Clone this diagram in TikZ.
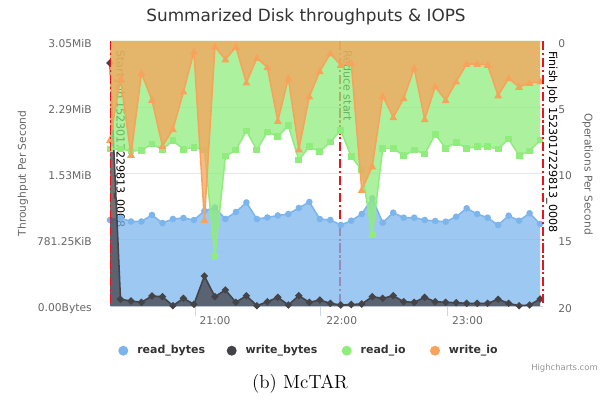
\documentclass[tikz,border=0pt]{standalone}
\usepackage{fontspec}
\newfontfamily\chartfont{DejaVu Sans}
\usepackage{xcolor}
\definecolor{ReadBytes}{HTML}{7CB5EC}
\definecolor{WriteBytes}{HTML}{434348}
\definecolor{ReadIO}{HTML}{90ED7D}
\definecolor{WriteIO}{HTML}{F7A35C}
\definecolor{PlotRed}{HTML}{E8141C}
\definecolor{GridGray}{HTML}{E6E6E6}
\definecolor{AxisGray}{HTML}{CCD6EB}
\definecolor{LabelGray}{HTML}{666666}
\definecolor{TitleGray}{HTML}{333333}
\usepackage{tikz}
\usetikzlibrary{positioning}

% y positions (px from top) of the 42 samples, one every 5 minutes
\newcommand\readbytesdata{220,218,221.5,221.5,215,223,219,218,220,211,207.5,219,212,202.5,219,217.5,215.5,214,208,202,219,220,225,220.7,214,198.3,222.7,212.7,217.7,217.7,220,221,221.7,216.7,208.3,214,217.7,225,215.7,220.7,213.3,224}
\newcommand\writebytesdata{63,299.3,301,302.3,296,296.7,305.7,298.3,304.3,276,296.7,290,302.3,295.7,305.7,301.7,297.3,305,295.7,302.3,300,303.3,305,304.5,304,296.7,298.3,295.7,301.7,302.3,297.3,301.7,302.3,302.7,303.3,303.3,303.3,299.3,303.3,305.7,305,299}
\newcommand\readiodata{149,149,151,150.5,144,149.3,140.7,149.3,147.3,150,256.7,156,150,131,150,132,136.5,125.5,160,146.7,151.7,142,130.5,156.5,170,235,148.3,148.3,155.7,150,154,134.3,148.3,142.3,148.3,146.7,146.7,149,139,155.7,151,140}
\newcommand\writeiodata{140,78.3,155,73.3,100,146,129.3,91.7,51.7,220,46.7,59.5,47,82.7,58,67.3,121,78.3,149.5,96.5,71.3,53.7,65,63.3,190,166.5,96,117.3,98.3,68.3,119.3,86.7,100.3,81.7,64,64,65,95.5,78.3,87,83,81.7}

\begin{document}
\begin{tikzpicture}[
  x=0.025cm,y=-0.025cm,
  gridline/.style={draw=GridGray,line width=0.7pt},
  axisline/.style={draw=AxisGray,line width=0.7pt},
  plotline/.style={draw=PlotRed,line width=1.4pt,dash pattern=on 6.5pt off 2pt on 1.5pt off 2pt},
  titletext/.style={font=\chartfont\fontsize{12}{14}\selectfont,text=TitleGray,inner sep=0pt},
  axislabel/.style={font=\chartfont\fontsize{7.6}{9}\selectfont,text=LabelGray,inner sep=0pt},
  plotlabel/.style={font=\chartfont\fontsize{7.9}{9}\selectfont,text=black,inner sep=0pt,rotate=-90,anchor=west},
  legdot/.style={circle,inner sep=0pt,minimum size=0.25cm},
  legtext/.style={font=\chartfont\bfseries\fontsize{7.8}{9}\selectfont,text=TitleGray,inner sep=0pt,right=0.21cm of #1},
  serieslinestyle/.style={line width=1.1pt,line join=round}
]
\useasboundingbox (0,0) rectangle (612,400);

\node[titletext] (title) at (306,17) {Summarized Disk throughputs \& IOPS};

% grid and axes
\coordinate (top) at (111,41);
\coordinate (base) at (111,306);
\foreach \g in {41,107,173,239}
  \draw[gridline] (111,\g) -- (543,\g);
\draw[axisline] (111,306) -- (543,306);
\foreach \t in {195,320,447}
  \draw[axisline] (\t,306) -- (\t,316);

\foreach \g/\lab [count=\k] in {41/3.05MiB,107/2.29MiB,173/1.53MiB,239/781.25KiB,306/0.00Bytes}
  \node[axislabel,anchor=east] (yleft\k) at (92,{\g+2.5}) {\lab};
\foreach \g/\lab [count=\k] in {41/0,107/5,173/10,239/15,306/20}
  \node[axislabel,anchor=west] (yright\k) at (558,{\g+2.5}) {\lab};
\foreach \x/\lab [count=\k] in {215/21:00,341.7/22:00,467.5/23:00}
  \node[axislabel] (xtick\k) at (\x,321) {\lab};

\node[axislabel,rotate=90] (ytitle) at (23,173.5) {Throughput Per Second};
\node[axislabel,rotate=-90] (y2title) at (587.5,174) {Operations Per Second};

% plot lines that sit under the series
\coordinate (reduceTop) at (340,41);
\coordinate (reduceBot) at (340,306);
\draw[plotline] (reduceTop) -- (reduceBot);
\node[plotlabel] (reducelab) at (347.7,50) {Reduce start};
\node[plotlabel] (startlab) at (119.5,50) {Start Job 1523017229813\_0008};

% sample points
\foreach \v [count=\i from 0] in \readbytesdata
  \coordinate (rb\i) at ({110+10.49*\i},\v);
\foreach \v [count=\i from 0] in \writebytesdata
  \coordinate (wb\i) at ({110+10.49*\i},\v);
\foreach \v [count=\i from 0] in \readiodata
  \coordinate (ri\i) at ({110+10.49*\i},\v);
\foreach \v [count=\i from 0] in \writeiodata
  \coordinate (wi\i) at ({110+10.49*\i},\v);

% read_bytes
\fill[ReadBytes,fill opacity=0.75] (rb0 |- base) -- (rb0) \foreach \i in {1,...,41} {-- (rb\i)} -- (rb41 |- base) -- cycle;
\draw[ReadBytes,serieslinestyle] (rb0) \foreach \i in {1,...,41} {-- (rb\i)};
\foreach \i in {0,...,41}
  \fill[ReadBytes] (rb\i) circle[radius=0.083cm];

% write_bytes
\fill[WriteBytes,fill opacity=0.75] (wb0 |- base) -- (wb0) \foreach \i in {1,...,41} {-- (wb\i)} -- (wb41 |- base) -- cycle;
\draw[WriteBytes,serieslinestyle] (wb0) \foreach \i in {1,...,41} {-- (wb\i)};
\foreach \i in {0,...,41}
  \fill[WriteBytes] (wb\i) +(0,-3.8) -- +(3.8,0) -- +(0,3.8) -- +(-3.8,0) -- cycle;

% read_io (reversed axis, filled to the top)
\fill[ReadIO,fill opacity=0.75] (ri0 |- top) -- (ri0) \foreach \i in {1,...,41} {-- (ri\i)} -- (ri41 |- top) -- cycle;
\draw[ReadIO,serieslinestyle] (ri0) \foreach \i in {1,...,41} {-- (ri\i)};
\foreach \i in {0,...,41}
  \fill[ReadIO] (ri\i) +(-3.4,-3.4) rectangle +(3.4,3.4);

% write_io
\fill[WriteIO,fill opacity=0.75] (wi0 |- top) -- (wi0) \foreach \i in {1,...,41} {-- (wi\i)} -- (wi41 |- top) -- cycle;
\draw[WriteIO,serieslinestyle] (wi0) \foreach \i in {1,...,41} {-- (wi\i)};
\foreach \i in {0,...,41}
  \fill[WriteIO] (wi\i) +(0,-4.2) -- +(3.9,2.8) -- +(-3.9,2.8) -- cycle;

% start / finish lines
\coordinate (startTop) at (110.5,41);
\coordinate (startBot) at (110.5,306);
\coordinate (finishTop) at (543,41);
\coordinate (finishBot) at (543,306);
\draw[plotline] (startTop) -- (startBot);
\draw[plotline] (finishTop) -- (finishBot);
\node[plotlabel] (finishlab) at (552,51) {Finish Job 1523017229813\_0008};

% legend
\node[legdot,fill=ReadBytes] (legrb) at (123.3,350.7) {};
\node[legtext=legrb] (legrbtext) {read\_bytes};
\node[legdot,fill=WriteBytes] (legwb) at (231.7,350.7) {};
\node[legtext=legwb] (legwbtext) {write\_bytes};
\node[legdot,fill=ReadIO] (legri) at (346.7,350.7) {};
\node[legtext=legri] (legritext) {read\_io};
\node[legdot,fill=WriteIO] (legwi) at (435,350.7) {};
\node[legtext=legwi] (legwitext) {write\_io};

\node[font=\chartfont\fontsize{6}{7}\selectfont,text=LabelGray!70,inner sep=0pt,anchor=east] (credits) at (598,368) {Highcharts.com};

\node[font=\fontsize{13.5}{16}\selectfont,inner sep=0pt] (caption) at (300,384) {(b) McTAR};
\end{tikzpicture}
\end{document}
